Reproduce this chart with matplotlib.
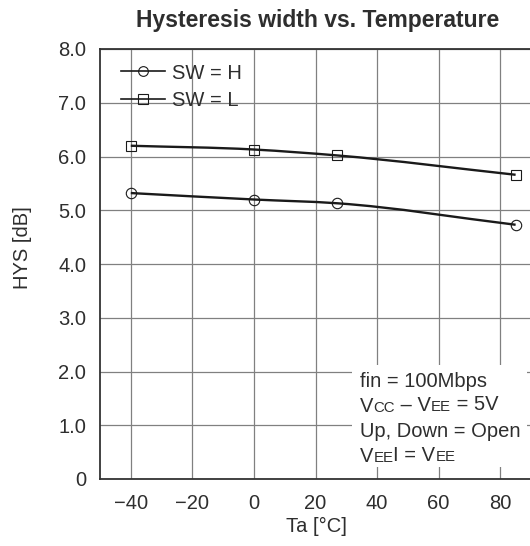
import matplotlib
matplotlib.use("Agg")
import matplotlib.pyplot as plt
import numpy as np
from matplotlib.path import Path
from matplotlib.patches import PathPatch, Rectangle
from matplotlib.lines import Line2D

plt.rcParams['font.family'] = ['Liberation Sans', 'DejaVu Sans']

# data
ta = [-40, 0, 27, 85]
hys_h = [5.32, 5.20, 5.13, 4.73]
hys_l = [6.20, 6.13, 6.02, 5.66]
series_labels = ["SW = H", "SW = L"]
x_ticks = [-40, -20, 0, 20, 40, 60, 80]
y_ticks = [0, 1, 2, 3, 4, 5, 6, 7, 8]
y_tick_labels = ["0", "1.0", "2.0", "3.0", "4.0", "5.0", "6.0", "7.0", "8.0"]

text_col = "#2e2e2e"
fs = 14.5


# smooth curve through the points (cubic hermite written as bezier segments)
def smooth_path(xs, ys):
    x = np.asarray(xs, float)
    y = np.asarray(ys, float)
    d = np.diff(y) / np.diff(x)
    m = np.empty_like(x)
    m[0], m[-1] = d[0], d[-1]
    for i in range(1, len(x) - 1):
        h0, h1 = x[i] - x[i - 1], x[i + 1] - x[i]
        m[i] = (d[i - 1] * h1 + d[i] * h0) / (h0 + h1)
    verts = [(x[0], y[0])]
    codes = [Path.MOVETO]
    for i in range(len(x) - 1):
        h = x[i + 1] - x[i]
        verts += [(x[i] + h / 3, y[i] + m[i] * h / 3),
                  (x[i + 1] - h / 3, y[i + 1] - m[i + 1] * h / 3),
                  (x[i + 1], y[i + 1])]
        codes += [Path.CURVE4] * 3
    return Path(verts, codes)


fig = plt.figure(figsize=(5.3, 5.46), dpi=100)
ax = fig.add_axes([100 / 530, 67 / 546, 431 / 530, 430 / 546])
ax.set_xlim(-50, 90)
ax.set_ylim(0, 8)
ax.set_xticks(x_ticks)
ax.set_yticks(y_ticks)
ax.set_yticklabels(y_tick_labels)
ax.tick_params(length=0, labelsize=fs, labelcolor=text_col)
ax.tick_params(axis='x', pad=10.5)
ax.tick_params(axis='y', pad=10)
ax.grid(True, color="#808080", lw=0.9)
ax.set_axisbelow(True)
for s in ax.spines.values():
    s.set_color("#333333")
    s.set_linewidth(1.3)

# white box behind the conditions text
ax.add_patch(Rectangle((0.585, 0.028), 0.405, 0.237, transform=ax.transAxes,
                       facecolor="white", edgecolor="none", zorder=1.5))

for ys, mk in [(hys_h, 'o'), (hys_l, 's')]:
    ax.add_patch(PathPatch(smooth_path(ta, ys), facecolor='none',
                           edgecolor='#1a1a1a', lw=1.7, zorder=3))
    ax.plot(ta, ys, ls='none', marker=mk, ms=7.5 if mk == 'o' else 7,
            mfc='none', mec='#1a1a1a', mew=0.8, zorder=4)

handles = [Line2D([], [], color='#1a1a1a', lw=1.2, marker=m, ms=7 if m == 'o' else 6.5,
                  mfc='none', mec='#1a1a1a', mew=0.8) for m in ['o', 's']]
ax.legend(handles, series_labels, loc='upper left', frameon=False, fontsize=fs,
          handlelength=2.2, handletextpad=0.35, labelspacing=0.4,
          borderaxespad=0.0, bbox_to_anchor=(0.03, 0.985), labelcolor=text_col)


# conditions text, with small capitals for the subscripts
def rich_line(x, y, pieces):
    prev = ax.text(x, y, pieces[0][0], transform=ax.transAxes, fontsize=pieces[0][1],
                   color=text_col, va='baseline', ha='left', zorder=5)
    for s, size in pieces[1:]:
        prev = ax.annotate(s, xy=(1, 0), xycoords=prev, fontsize=size,
                           xytext=(0, 0.8 if size < fs else 0), textcoords='offset points',
                           color=text_col, va='bottom', ha='left', zorder=5)


sm = 10.8
tx = 260 / 431
rich_line(tx, (479 - 387) / 430, [("fin = 100Mbps", fs)])
rich_line(tx, (479 - 412) / 430, [("V", fs), ("CC", sm), (" \u2013 V", fs), ("EE", sm), (" = 5V", fs)])
rich_line(tx, (479 - 437) / 430, [("Up, Down = Open", fs)])
rich_line(tx, (479 - 462) / 430, [("V", fs), ("EE", sm), ("I = V", fs), ("EE", sm)])

fig.text(318 / 530, 1 - 20 / 546, "Hysteresis width vs. Temperature", ha='center',
         va='center', fontsize=16.5, fontweight='bold', color=text_col)
fig.text(316 / 530, 1 - 526 / 546, "Ta [\u00b0C]", ha='center', va='center',
         fontsize=fs, color=text_col)
fig.text(22.5 / 530, 1 - 248 / 546, "HYS [dB]", ha='center', va='center',
         rotation=90, fontsize=fs, color=text_col)

fig.savefig("out.png", dpi=100)
